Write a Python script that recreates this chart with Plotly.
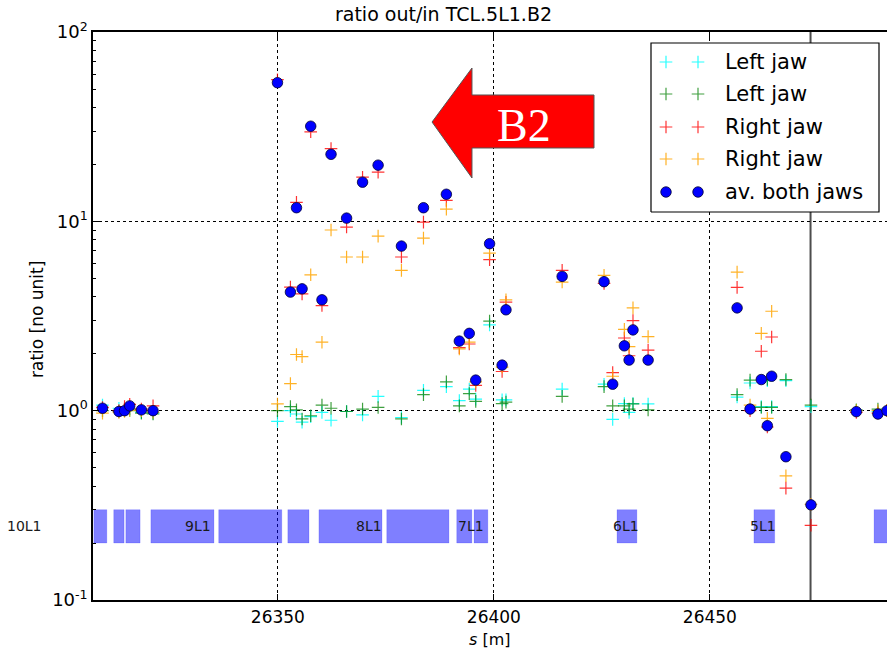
import math
import plotly.graph_objects as go

# Longitudinal positions s [m] of the measured elements
S_POS = [26309.4, 26313.2, 26314.5, 26315.7, 26318.4, 26321.1,
         26349.9, 26352.9, 26354.3, 26355.6, 26357.6, 26360.2, 26362.3, 26365.9, 26369.6, 26373.2,
         26378.6, 26383.7, 26389.0, 26392.0, 26394.3, 26395.8, 26399.0, 26401.9, 26402.8,
         26415.8, 26425.5, 26427.5, 26430.2, 26431.3, 26432.2, 26435.7,
         26456.3, 26459.3, 26461.9, 26463.3, 26464.3, 26467.6, 26473.4, 26483.9, 26488.9, 26491.0]

# Ratio out/in, left jaw (two measurements)
LEFT_JAW_A = [1.07, 1.03, 1.02, 1.00, 0.98, 0.97,
              0.878, 1.00, 0.96, 0.87, 0.93, 0.98, 0.89, 0.99, 0.95, 1.19,
              0.92, 1.28, 1.34, 1.13, 1.30, 1.15, 2.84, 1.14, 1.14,
              1.30, 1.38, 0.90, 1.09, 0.98, 1.09, 1.085,
              1.18, 1.40, 1.05, 1.44, 1.05, 1.44, 1.05, 1.00, 0.99, 1.00]
LEFT_JAW_B = [1.00, 0.99, 1.00, 1.02, 0.97, 0.96,
              1.00, 1.05, 1.01, 0.904, 0.94, 1.07, 1.03, 0.99, 1.02, 1.04,
              0.904, 1.215, 1.42, 1.06, 1.23, 1.12, 2.97, 1.09, 1.11,
              1.19, 1.34, 1.06, 1.06, 1.02, 1.085, 1.01,
              1.215, 1.45, 1.04, 1.46, 1.04, 1.46, 1.07, 1.01, 1.02, 1.00]

# Ratio out/in, right jaw (two measurements)
RIGHT_JAW_A = [1.04, 1.00, 1.05, 1.08, 1.02, 1.06,
               56.0, 4.49, 12.6, 4.14, 29.7, 3.59, 24.2, 9.33, 17.1, 18.2,
               6.48, 9.9, 12.9, 2.15, 2.25, 1.36, 6.27, 1.61, 3.74,
               5.51, 4.70, 1.59, 2.42, 1.95, 2.99, 2.09,
               4.48, 1.00, 2.06, 0.82, 2.45, 0.39, 0.248, 0.98, 0.97, 1.00]
RIGHT_JAW_B = [0.97, 0.98, 0.99, 1.00, 1.00, 0.98,
               1.085, 1.39, 1.98, 1.93, 5.22, 2.30, 9.0, 6.48, 6.48, 8.35,
               5.51, 8.15, 11.6, 2.12, 2.30, 1.42, 6.79, 1.70, 3.85,
               4.78, 5.18, 1.52, 2.69, 2.18, 3.49, 2.46,
               5.39, 1.07, 2.56, 0.91, 3.35, 0.453, 0.32, 1.00, 1.00, 1.00]

# Average of both jaws
AV_BOTH = [1.03, 0.99, 1.00, 1.06, 1.01, 1.00,
           54.0, 4.23, 11.8, 4.40, 31.8, 3.85, 22.6, 10.4, 16.1, 19.8,
           7.40, 11.8, 13.9, 2.33, 2.56, 1.45, 7.62, 1.74, 3.41,
           5.12, 4.80, 1.38, 2.20, 1.85, 2.67, 1.85,
           3.49, 1.02, 1.46, 0.833, 1.52, 0.571, 0.318, 0.988, 0.96, 1.00]

# Beam-line elements (aperture layout strip)
ELEM_START = [26307.4, 26312.0, 26314.8, 26320.6, 26336.3, 26352.3, 26359.5,
              26375.2, 26391.4, 26395.4, 26428.5, 26460.2, 26488.0]
ELEM_END = [26310.4, 26314.4, 26318.1, 26335.2, 26350.9, 26357.2, 26374.1,
            26389.6, 26394.9, 26398.6, 26433.1, 26465.0, 26495.0]
ELEM_Y = [0.2, 0.3]

CELL_NAMES = ["10L1", "9L1", "8L1", "7L1", "6L1", "5L1"]
CELL_S = [26291.4, 26331.4, 26371.1, 26394.8, 26430.6, 26462.3]
CELL_Y = 0.245

TCL_S = 26473.3

X_RANGE = [26307.2, 26491.0]
X_TICKS = [26350, 26400, 26450]
Y_TICKS = [0.1, 1, 10, 100]
Y_TICK_TEXT = ["10<sup>-1</sup>", "10<sup>0</sup>", "10<sup>1</sup>", "10<sup>2</sup>"]

SERIES = [
    ("Left jaw", LEFT_JAW_A, "rgba(0,255,255,0.85)"),
    ("Left jaw", LEFT_JAW_B, "rgba(0,128,0,0.75)"),
    ("Right jaw", RIGHT_JAW_A, "rgba(255,0,0,0.8)"),
    ("Right jaw", RIGHT_JAW_B, "rgba(255,165,0,0.85)"),
]
DOT_COLOR = "#0000ff"

FONT = "DejaVu Sans"
W, H = 887, 650
ML, MR, MT, MB = 93, 0, 32, 50
PW, PH = W - ML - MR, H - MT - MB


def px(x):
    return (x - ML) / PW


def py(y):
    return 1 - (y - MT) / PH


def s_to_paper(s):
    return (s - X_RANGE[0]) / (X_RANGE[1] - X_RANGE[0])


def logy_to_paper(v):
    return (math.log10(v) + 1) / 3


fig = go.Figure()

# element strip as filled polygons
ex, ey = [], []
for a, b in zip(ELEM_START, ELEM_END):
    ex += [a, b, b, a, a, None]
    ey += [ELEM_Y[0], ELEM_Y[0], ELEM_Y[1], ELEM_Y[1], ELEM_Y[0], None]
fig.add_trace(go.Scatter(x=ex, y=ey, mode="lines", fill="toself",
                         fillcolor="rgba(0,0,255,0.5)",
                         line=dict(color="rgba(0,0,255,0.15)", width=1),
                         showlegend=False, hoverinfo="skip"))

for name, vals, col in SERIES:
    fig.add_trace(go.Scatter(x=S_POS, y=vals, mode="markers", name=name,
                             marker=dict(symbol="cross-thin", size=9,
                                         line=dict(color=col, width=1.2)),
                             showlegend=False))

fig.add_trace(go.Scatter(x=S_POS, y=AV_BOTH, mode="markers", name="av. both jaws",
                         marker=dict(symbol="circle", size=10.5, color=DOT_COLOR,
                                     line=dict(color="#000033", width=0.8)),
                         showlegend=False))

# legend drawn on an overlay axis spanning the plot area
LEG_ROWS = [62, 94, 127, 159, 192]
LEG_LABELS = ["Left jaw", "Left jaw", "Right jaw", "Right jaw", "av. both jaws"]
bx0, bx1, by0, by1 = px(651), px(879), py(212), py(43)
fig.add_trace(go.Scatter(x=[bx0, bx1, bx1, bx0, bx0], y=[by0, by0, by1, by1, by0],
                         xaxis="x2", yaxis="y2", mode="lines", fill="toself",
                         fillcolor="white", line=dict(color="black", width=1.2),
                         showlegend=False, hoverinfo="skip"))
for i, (name, vals, col) in enumerate(SERIES):
    fig.add_trace(go.Scatter(x=[px(666), px(698)], y=[py(LEG_ROWS[i])] * 2,
                             xaxis="x2", yaxis="y2", mode="markers",
                             marker=dict(symbol="cross-thin", size=9,
                                         line=dict(color=col, width=1.2)),
                             showlegend=False, hoverinfo="skip"))
fig.add_trace(go.Scatter(x=[px(666), px(698)], y=[py(LEG_ROWS[4])] * 2,
                         xaxis="x2", yaxis="y2", mode="markers",
                         marker=dict(symbol="circle", size=10.5, color=DOT_COLOR,
                                     line=dict(color="#000033", width=0.8)),
                         showlegend=False, hoverinfo="skip"))

annotations = []
for lab, r in zip(LEG_LABELS, LEG_ROWS):
    annotations.append(dict(text=lab, xref="paper", yref="paper", x=px(723), y=py(r),
                            xanchor="left", yanchor="middle", showarrow=False,
                            font=dict(family=FONT, size=21, color="black")))

# cell names, placed in paper space so the leftmost one may sit outside the axes
for name, s in zip(CELL_NAMES, CELL_S):
    annotations.append(dict(text=name, x=s_to_paper(s), y=logy_to_paper(CELL_Y),
                            xref="paper", yref="paper", showarrow=False,
                            xanchor="center", yanchor="middle",
                            font=dict(family=FONT, size=14, color="#1a1a1a")))

# beam direction arrow
arrow_pts = [(432, 122), (472, 68), (472, 95), (594, 95), (594, 148), (472, 148), (472, 178)]
path = "M " + " L ".join(f"{px(x):.4f},{py(y):.4f}" for x, y in arrow_pts) + " Z"
shapes = [
    dict(type="path", path=path, xref="paper", yref="paper", fillcolor="#ff0000",
         line=dict(color="#555555", width=1), layer="above"),
    dict(type="line", x0=TCL_S, x1=TCL_S, y0=0, y1=1, xref="x", yref="paper",
         line=dict(color="#4d4d4d", width=2), layer="below"),
]
annotations.append(dict(text="B2", xref="paper", yref="paper", x=px(524), y=py(125),
                        showarrow=False, xanchor="center", yanchor="middle",
                        font=dict(family="Liberation Serif", size=46, color="white")))

annotations.append(dict(text="<i>s</i> [m]", xref="paper", yref="paper", x=0.5, y=py(639),
                        showarrow=False, yanchor="middle",
                        font=dict(family=FONT, size=16, color="black")))
annotations.append(dict(text="ratio [no unit]", xref="paper", yref="paper", x=px(37), y=py(320),
                        showarrow=False, textangle=-90, xanchor="center", yanchor="middle",
                        font=dict(family=FONT, size=17, color="black")))

minor_vals = [m * 10 ** e for e in (-1, 0, 1) for m in range(2, 10)]

fig.update_layout(
    width=W, height=H,
    margin=dict(l=ML, r=MR, t=MT, b=MB),
    paper_bgcolor="white", plot_bgcolor="white",
    title=dict(text="ratio out/in TCL.5L1.B2", x=0.5, xanchor="center",
               y=1 - 14 / H, yanchor="middle",
               font=dict(family=FONT, size=19, color="black")),
    xaxis=dict(range=X_RANGE, tickvals=X_TICKS, ticktext=[str(t) for t in X_TICKS],
               ticks="inside", ticklen=6, tickcolor="black", ticklabelstandoff=1,
               showline=True, linecolor="black", linewidth=1.5, mirror="ticks",
               showgrid=True, gridcolor="black", griddash="dot", gridwidth=1,
               zeroline=False, tickfont=dict(family=FONT, size=17, color="black")),
    yaxis=dict(type="log", range=[-1, 2], tickvals=Y_TICKS, ticktext=Y_TICK_TEXT,
               ticks="inside", ticklen=6, tickcolor="black",
               showline=True, linecolor="black", linewidth=1.5,
               showgrid=True, gridcolor="black", griddash="dot", gridwidth=1,
               minor=dict(tickmode="array", tickvals=minor_vals, ticks="inside",
                          ticklen=3, tickcolor="black", showgrid=False),
               zeroline=False, tickfont=dict(family=FONT, size=18, color="black")),
    xaxis2=dict(overlaying="x", range=[0, 1], visible=False, anchor="y2"),
    yaxis2=dict(overlaying="y", range=[0, 1], visible=False, anchor="x2"),
    shapes=shapes,
    annotations=annotations,
    showlegend=False,
)

fig.write_html("out.html")
